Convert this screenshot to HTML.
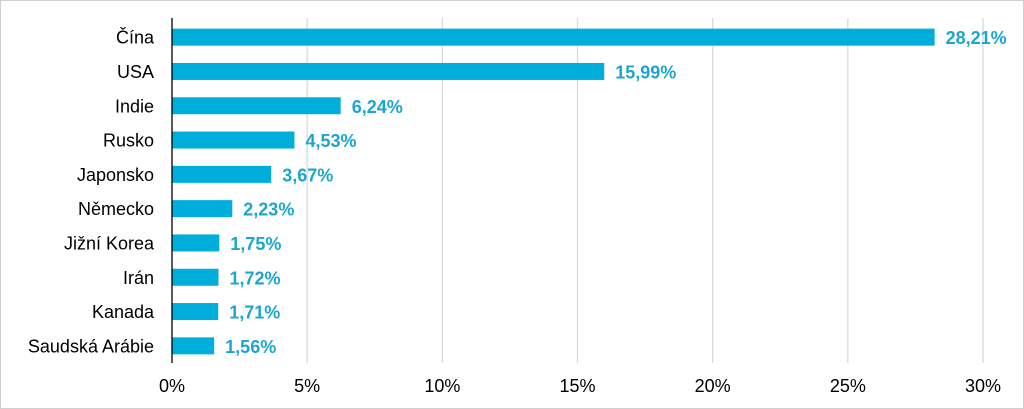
<!DOCTYPE html>
<html><head><meta charset="utf-8"><style>
body{margin:0;background:#fff}
svg{display:block;font-family:"Liberation Sans",Arial,sans-serif}
</style></head><body>
<svg id="c" width="1024" height="409" viewBox="0 0 1024 409">
<rect x="0.5" y="0.5" width="1023" height="408" fill="#fff" stroke="#d0d0d0"/>
<g id="grid"></g><g id="bars"></g><g id="labels"></g>
</svg>
<script>
const categories=["Čína","USA","Indie","Rusko","Japonsko","Německo","Jižní Korea","Irán","Kanada","Saudská Arábie"];
const values=[28.21,15.99,6.24,4.53,3.67,2.23,1.75,1.72,1.71,1.56];
const valueLabels=["28,21%","15,99%","6,24%","4,53%","3,67%","2,23%","1,75%","1,72%","1,71%","1,56%"];
const ticks=[0,5,10,15,20,25,30];
const tickLabels=["0%","5%","10%","15%","20%","25%","30%"];
const NS="http://www.w3.org/2000/svg";
const x0=172,x1=983,plotTop=20,plotBottom=363;
const xs=v=>x0+(v/30)*(x1-x0);
const rowH=(plotBottom-plotTop)/categories.length;
const yc=i=>plotTop+rowH*(i+0.5);
function mk(t,a,p){const e=document.createElementNS(NS,t);for(const k in a)e.setAttribute(k,a[k]);p.appendChild(e);return e;}
const g=document.getElementById('grid'),b=document.getElementById('bars'),l=document.getElementById('labels');
ticks.forEach((t,i)=>{
 if(t>0){const ln=mk('line',{x1:xs(t),x2:xs(t),y1:18,y2:363,stroke:'#d9d9d9','stroke-width':1.3},g);
 
 }
 const tx=mk('text',{x:xs(t),y:392,'text-anchor':'middle','font-size':18,fill:'#000'},g);
 tx.textContent=tickLabels[i];
 
 
});
categories.forEach((c,i)=>{
 const r=mk('rect',{x:x0,y:yc(i)-8.5,width:xs(values[i])-x0,height:17,fill:'#00AEDB'},b);
 
 
 const ct=mk('text',{x:154,y:yc(i)+6.5,'text-anchor':'end','font-size':18,fill:'#000'},l);
 ct.textContent=c;
 
 
 const vt=mk('text',{x:xs(values[i])+11,y:yc(i)+7,'font-size':18,'font-weight':'bold',fill:'#1BA6CF'},l);
 vt.textContent=valueLabels[i];
 
 
});
const ax=mk('line',{x1:x0,x2:x0,y1:18,y2:363,stroke:'#000','stroke-width':1.3},l);


</script>
</body></html>
